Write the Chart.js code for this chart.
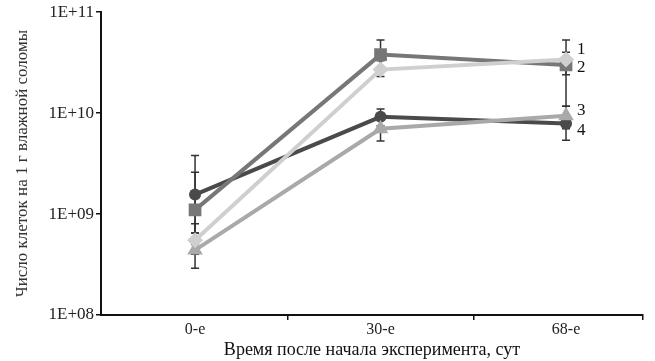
<!DOCTYPE html>
<html>
<head>
<meta charset="utf-8">
<script src="https://cdn.jsdelivr.net/npm/chart.js@4/dist/chart.umd.min.js"></script>
<style>
  body { margin: 0; background: #fff; }
</style>
</head>
<body>
<canvas id="cellsChart" width="655" height="361"></canvas>
<script>
var categories = ["0-е", "30-е", "68-е"];
var seriesNames = ["1", "2", "3", "4"];

// mean values per series
var series1 = [5.5e8, 2.7e10, 3.4e10];
var series2 = [1.1e9, 3.8e10, 3.0e10];
var series3 = [4.4e8, 7.0e9, 9.4e9];
var series4 = [1.56e9, 9.2e9, 7.9e9];

// error bar ends (upper / lower)
var upper1 = [8.0e8, 3.3e10, 5.3e10];
var lower1 = [4.0e8, 2.3e10, 2.4e10];
var upper2 = [2.6e9, 5.3e10, 4.0e10];
var lower2 = [5.0e8, 2.6e10, 1.17e10];
var upper3 = [6.5e8, 8.5e9, 1.17e10];
var lower3 = [2.9e8, 5.3e9, 7.0e9];
var upper4 = [3.8e9, 1.1e10, 9.0e9];
var lower4 = [6.5e8, 7.5e9, 5.4e9];

var yTicks = [1e8, 1e9, 1e10, 1e11];
// x axis: categories sit at 0,1,2; tick marks between them
var xTickMarks = [0.5, 1.5];
var xMin = -0.507, xMax = 2.415;

var serif = "'Liberation Serif', 'DejaVu Serif', serif";

function toPoints(arr) {
  return arr.map(function(v, i) { return { x: i, y: v }; });
}

var errorBars = {
  id: 'errorBars',
  beforeDatasetsDraw: function(chart) {
    var ctx = chart.ctx;
    var ys = chart.scales.y;
    var ups = [upper1, upper2, upper3, upper4];
    var lows = [lower1, lower2, lower3, lower4];
    ctx.save();
    ctx.strokeStyle = '#333';
    ctx.lineWidth = 1.5;
    for (var d = 0; d < chart.data.datasets.length; d++) {
      var meta = chart.getDatasetMeta(d);
      for (var i = 0; i < meta.data.length; i++) {
        var x = meta.data[i].x;
        var yt = ys.getPixelForValue(ups[d][i]);
        var yb = ys.getPixelForValue(lows[d][i]);
        ctx.beginPath();
        ctx.moveTo(x, yt); ctx.lineTo(x, yb);
        ctx.moveTo(x - 4, yt); ctx.lineTo(x + 4, yt);
        ctx.moveTo(x - 4, yb); ctx.lineTo(x + 4, yb);
        ctx.stroke();
      }
    }
    ctx.restore();
  }
};

var endLabels = {
  id: 'endLabels',
  afterDatasetsDraw: function(chart) {
    var ctx = chart.ctx;
    var ys = chart.scales.y;
    // label positions next to last point
    var labelVals = [4.3e10, 2.8e10, 1.05e10, 6.7e9];
    ctx.save();
    ctx.fillStyle = '#111';
    ctx.font = "17px " + serif;
    ctx.textBaseline = 'middle';
    for (var d = 0; d < chart.data.datasets.length; d++) {
      var meta = chart.getDatasetMeta(d);
      var last = meta.data[meta.data.length - 1];
      ctx.fillText(seriesNames[d], last.x + 11, ys.getPixelForValue(labelVals[d]));
    }
    ctx.restore();
  }
};

var ctx = document.getElementById('cellsChart').getContext('2d');
var chart = new Chart(ctx, {
  type: 'line',
  data: {
    datasets: [
      { label: "1", data: toPoints(series1), borderColor: '#cfcfcf', backgroundColor: '#cfcfcf',
        pointStyle: 'rectRot', pointRadius: 8 },
      { label: "2", data: toPoints(series2), borderColor: '#777', backgroundColor: '#777',
        pointStyle: 'rect', pointRadius: 9 },
      { label: "3", data: toPoints(series3), borderColor: '#a9a9a9', backgroundColor: '#a9a9a9',
        pointStyle: 'triangle', pointRadius: 9 },
      { label: "4", data: toPoints(series4), borderColor: '#4a4a4a', backgroundColor: '#4a4a4a',
        pointStyle: 'circle', pointRadius: 6 }
    ]
  },
  options: {
    responsive: false,
    animation: false,
    devicePixelRatio: 1,
    elements: { line: { borderWidth: 4, tension: 0 }, point: { borderWidth: 0 } },
    layout: { padding: { top: 0, right: 12, left: 0, bottom: 0 } },
    plugins: { legend: { display: false }, tooltip: { enabled: false } },
    scales: {
      x: {
        type: 'linear',
        min: xMin,
        max: xMax,
        afterBuildTicks: function(s) {
          var vals = [0, xTickMarks[0], 1, xTickMarks[1], 2, xMax];
          s.ticks = vals.map(function(v) { return { value: v }; });
        },
        grid: {
          drawOnChartArea: false, tickLength: 5, lineWidth: 1.5,
          color: function(c) {
            return (c.tick && Number.isInteger(c.tick.value)) ? 'rgba(0,0,0,0)' : '#111';
          }
        },
        border: { color: '#111', width: 2 },
        ticks: {
          color: '#222', font: { family: serif, size: 16 }, padding: 0,
          autoSkip: false, maxRotation: 0,
          callback: function(v) {
            return Number.isInteger(v) ? categories[v] : '';
          }
        },
        title: { display: true, text: 'Время после начала эксперимента, сут', color: '#111',
                 font: { family: serif, size: 18 }, padding: { top: 0, bottom: 0 } },
        afterFit: function(s) { s.height = 46; }
      },
      y: {
        type: 'logarithmic',
        min: 1e8,
        max: 1e11,
        afterBuildTicks: function(s) {
          s.ticks = yTicks.map(function(v) { return { value: v }; });
        },
        grid: { drawOnChartArea: false, tickLength: 5, color: '#111', lineWidth: 1.5 },
        border: { color: '#111', width: 2 },
        ticks: {
          color: '#222', font: { family: serif, size: 17 }, padding: 2,
          callback: function(v) {
            var e = Math.round(Math.log10(v));
            return '1E+' + (e < 10 ? '0' + e : e);
          }
        },
        title: { display: true, text: 'Число клеток на 1 г влажной соломы', color: '#333',
                 font: { family: serif, size: 17 }, padding: { top: 12, bottom: 0 } },
        afterFit: function(s) { s.width = 101; }
      }
    }
  },
  plugins: [errorBars, endLabels]
});
</script>
</body>
</html>
